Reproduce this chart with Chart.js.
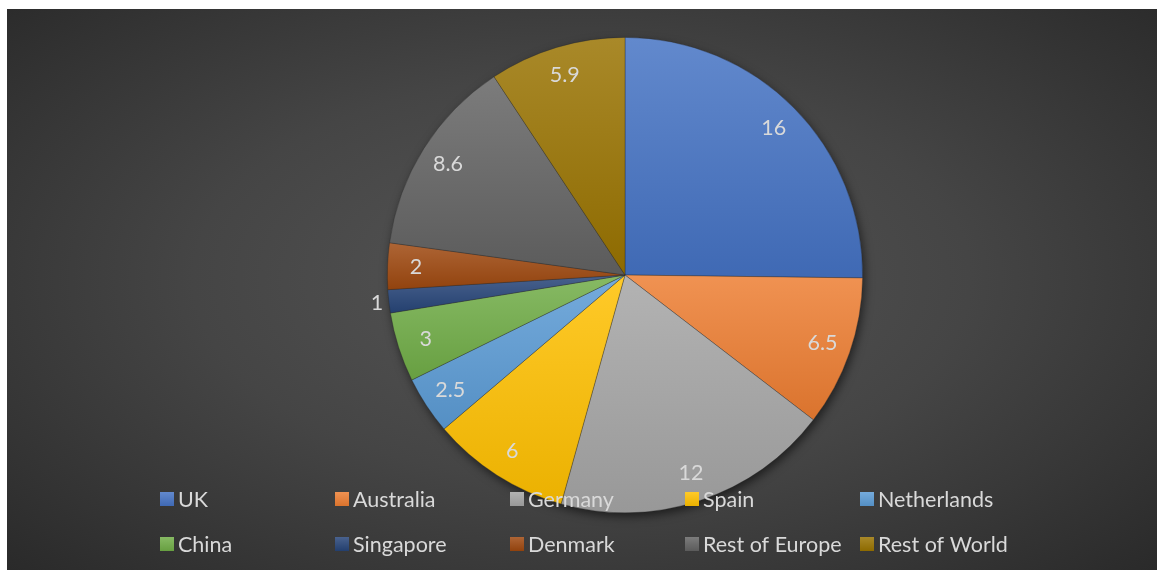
<!DOCTYPE html>
<html>
<head>
<meta charset="utf-8">
<script src="https://cdn.jsdelivr.net/npm/chart.js@4.4.1/dist/chart.umd.min.js"></script>
<style>
  html, body { margin: 0; padding: 0; background: #ffffff; }
  #wrap {
    position: absolute; left: 7px; top: 9px; width: 1150px; height: 561px;
    background: radial-gradient(ellipse 75% 80% at 50% 48%, #565656 0%, #454545 45%, #262626 100%);
  }
  canvas { display: block; }
</style>
</head>
<body>
<div id="wrap"><canvas id="pieChart" width="1150" height="561"></canvas></div>
<script>
const countries = ['UK', 'Australia', 'Germany', 'Spain', 'Netherlands', 'China', 'Singapore', 'Denmark', 'Rest of Europe', 'Rest of World'];
const shares = [16, 6.5, 12, 6, 2.5, 3, 1, 2, 8.6, 5.9];
const sliceColors = ['#4472C4', '#ED7D31', '#A5A5A5', '#FFC000', '#5B9BD5', '#70AD47', '#264478', '#9E480E', '#636363', '#997300'];

const textColor = '#d9d9d9';
const fontFamily = 'Lato, "Open Sans", sans-serif';

function mix(hex, target, amount) {
    const n = parseInt(hex.slice(1), 16);
    const r = (n >> 16) & 255, g = (n >> 8) & 255, b = n & 255;
    const m = c => Math.round(c + (target - c) * amount);
    return 'rgb(' + m(r) + ',' + m(g) + ',' + m(b) + ')';
}

// gives each slice its own top-to-bottom gradient, plus a soft shadow under the pie
const sliceFill = {
    id: 'sliceFill',
    beforeDatasetsDraw(chart) {
        const meta = chart.getDatasetMeta(0);
        if (!meta.data.length) return;
        const ctx = chart.ctx;
        const first = meta.data[0].getProps(['x', 'y', 'outerRadius'], true);
        ctx.save();
        ctx.shadowColor = 'rgba(0,0,0,0.55)';
        ctx.shadowBlur = 10;
        ctx.shadowOffsetX = 2;
        ctx.shadowOffsetY = 4;
        ctx.fillStyle = '#3a3a3a';
        ctx.beginPath();
        ctx.arc(first.x, first.y, first.outerRadius, 0, Math.PI * 2);
        ctx.fill();
        ctx.restore();

        meta.data.forEach((arc, i) => {
            const p = arc.getProps(['x', 'y', 'startAngle', 'endAngle', 'outerRadius'], true);
            const ys = [p.y, p.y + p.outerRadius * Math.sin(p.startAngle), p.y + p.outerRadius * Math.sin(p.endAngle)];
            [-Math.PI / 2, Math.PI / 2, 3 * Math.PI / 2].forEach(a => {
                if (a > p.startAngle && a < p.endAngle) ys.push(p.y + p.outerRadius * Math.sin(a));
            });
            const top = Math.min(...ys), bottom = Math.max(...ys);
            const grad = ctx.createLinearGradient(0, top, 0, bottom + 1);
            grad.addColorStop(0, mix(sliceColors[i], 255, 0.16));
            grad.addColorStop(1, mix(sliceColors[i], 0, 0.08));
            arc.options = Object.assign({}, arc.options, { backgroundColor: grad });
        });
    },
    afterDatasetsDraw(chart) {
        const meta = chart.getDatasetMeta(0);
        const ctx = chart.ctx;
        ctx.save();
        ctx.font = '21.5px ' + fontFamily;
        ctx.fillStyle = textColor;
        ctx.textAlign = 'center';
        ctx.textBaseline = 'middle';
        meta.data.forEach((arc, i) => {
            const p = arc.getProps(['x', 'y', 'startAngle', 'endAngle', 'outerRadius'], true);
            const mid = (p.startAngle + p.endAngle) / 2;
            const span = p.endAngle - p.startAngle;
            const dist = span < 0.15 ? p.outerRadius + 12 : p.outerRadius * 0.88;
            ctx.fillText(String(shares[i]), p.x + dist * Math.cos(mid), p.y + dist * Math.sin(mid));
        });
        ctx.restore();
    },
    afterDraw(chart) {
        // Excel-style legend: two rows of five fixed-width columns
        const ctx = chart.ctx;
        ctx.save();
        ctx.font = '21.5px ' + fontFamily;
        ctx.textBaseline = 'middle';
        ctx.textAlign = 'left';
        countries.forEach((name, i) => {
            const col = i % 5, row = Math.floor(i / 5);
            const bx = 153 + col * 175;
            const cy = 490 + row * 45;
            const grad = ctx.createLinearGradient(0, cy - 7, 0, cy + 7);
            grad.addColorStop(0, mix(sliceColors[i], 255, 0.16));
            grad.addColorStop(1, mix(sliceColors[i], 0, 0.08));
            ctx.fillStyle = grad;
            ctx.fillRect(bx, cy - 7, 14, 14);
            ctx.fillStyle = textColor;
            ctx.fillText(name, bx + 18, cy + 1);
        });
        ctx.restore();
    }
};

const ctx = document.getElementById('pieChart').getContext('2d');
new Chart(ctx, {
    type: 'pie',
    data: {
        labels: countries,
        datasets: [{
            data: shares,
            backgroundColor: sliceColors,
            borderColor: 'rgba(40,40,40,0.45)',
            borderWidth: 0.75
        }]
    },
    options: {
        responsive: false,
        animation: false,
        events: [],
        layout: { padding: { left: 86, right: 0, top: 28, bottom: 57 } },
        plugins: {
            legend: { display: false },
            tooltip: { enabled: false },
            title: { display: false }
        }
    },
    plugins: [sliceFill]
});
</script>
</body>
</html>
